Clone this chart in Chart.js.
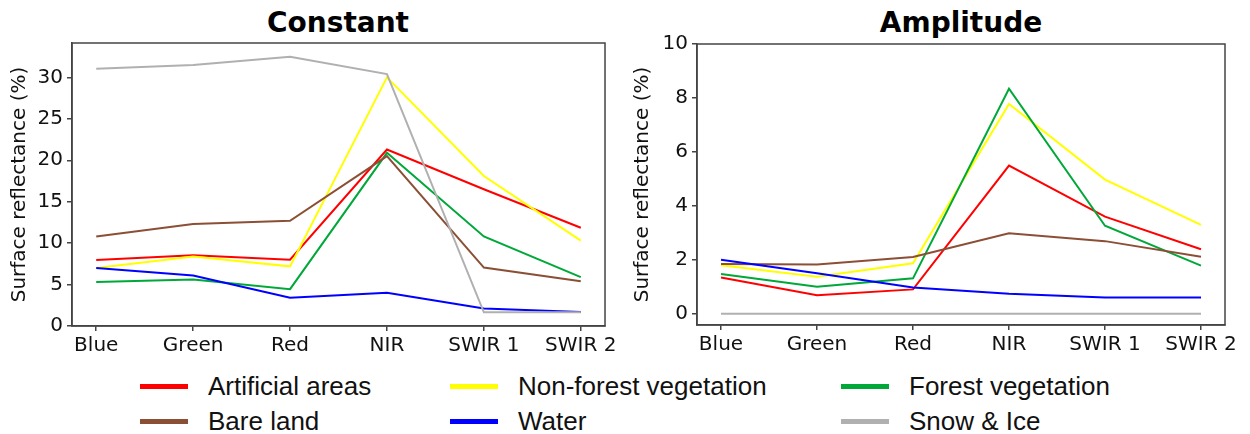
<!DOCTYPE html>
<html>
<head>
<meta charset="utf-8">
<script src="https://cdn.jsdelivr.net/npm/chart.js@4"></script>
<style>
  body { margin: 0; background: #fff; width: 1250px; height: 434px; position: relative; overflow: hidden; }
  .panel { position: absolute; top: 0; height: 365px; }
  .title { position: absolute; top: 6px; font: bold 28px "DejaVu Sans", sans-serif; color: #000; transform: translateX(-50%); white-space: nowrap; }
  #legend { position: absolute; left: 0; top: 0; font: 26px "Liberation Sans", Arial, sans-serif; color: #111; }
  .item { position: absolute; height: 30px; display: flex; align-items: center; white-space: nowrap; }
  .swatch { width: 48px; height: 5px; margin-right: 20px; }
</style>
</head>
<body>
<div class="title" style="left:338px">Constant</div>
<div class="title" style="left:961px">Amplitude</div>
<div class="panel" style="left:0;width:620px"><canvas id="constant-chart"></canvas></div>
<div class="panel" style="left:620px;width:630px"><canvas id="amplitude-chart"></canvas></div>
<div id="legend"></div>
<script>
const bands = ['Blue', 'Green', 'Red', 'NIR', 'SWIR 1', 'SWIR 2'];
const classes = ['Artificial areas', 'Non-forest vegetation', 'Forest vegetation', 'Bare land', 'Water', 'Snow & Ice'];
const colors = ['#ff0000', '#ffff00', '#00a83a', '#8b4f35', '#0000ff', '#b0b0b0'];

// Constant term (%)
const constArtificial = [7.95, 8.55, 8.0, 21.3, 16.5, 11.85];
const constNonForest = [7.0, 8.4, 7.2, 30.0, 18.1, 10.3];
const constForest = [5.3, 5.6, 4.45, 20.9, 10.8, 5.9];
const constBare = [10.8, 12.3, 12.7, 20.5, 7.05, 5.4];
const constWater = [7.0, 6.1, 3.4, 4.0, 2.1, 1.7];
const constSnow = [31.05, 31.5, 32.5, 30.4, 1.65, 1.65];

// Amplitude term (%)
const ampArtificial = [1.34, 0.68, 0.9, 5.49, 3.6, 2.39];
const ampNonForest = [1.8, 1.37, 1.87, 7.78, 4.97, 3.29];
const ampForest = [1.47, 1.0, 1.31, 8.34, 3.26, 1.78];
const ampBare = [1.84, 1.82, 2.1, 2.98, 2.69, 2.11];
const ampWater = [2.0, 1.5, 0.97, 0.74, 0.6, 0.6];
const ampSnow = [0, 0, 0, 0, 0, 0];

const constSeries = [constArtificial, constNonForest, constForest, constBare, constWater, constSnow];
const ampSeries = [ampArtificial, ampNonForest, ampForest, ampBare, ampWater, ampSnow];

const tickFont = { family: 'DejaVu Sans', size: 20 };
const axisColor = '#444';

// draws the full box round the plot like matplotlib spines
const framePlugin = {
    id: 'frame',
    afterDatasetsDraw(chart) {
        const a = chart.chartArea;
        const ctx = chart.ctx;
        ctx.save();
        ctx.strokeStyle = axisColor;
        ctx.lineWidth = 1.5;
        ctx.strokeRect(a.left, a.top, a.right - a.left, a.bottom - a.top);
        ctx.restore();
    }
};

function makeChart(id, series, cfg) {
    const ctx = document.getElementById(id).getContext('2d');
    // snow drawn first so it sits underneath, like the reference
    const order = [5, 4, 3, 2, 1, 0];
    return new Chart(ctx, {
        type: 'line',
        data: {
            datasets: order.map(i => ({
                label: classes[i],
                data: series[i].map((v, j) => ({ x: j, y: v })),
                borderColor: colors[i],
                borderWidth: 2,
                pointRadius: 0,
                tension: 0,
                fill: false
            }))
        },
        options: {
            responsive: true,
            maintainAspectRatio: false,
            animation: false,
            layout: { padding: { top: cfg.top, right: cfg.right, left: 0, bottom: 0 } },
            plugins: { legend: { display: false }, tooltip: { enabled: false } },
            scales: {
                x: {
                    type: 'linear',
                    min: -0.25,
                    max: 5.25,
                    afterBuildTicks: s => { s.ticks = bands.map((b, i) => ({ value: i })); },
                    afterFit: s => { s.height = cfg.xHeight; },
                    ticks: { callback: v => bands[v], font: tickFont, color: '#111', padding: 3, maxRotation: 0, autoSkip: false },
                    grid: { drawOnChartArea: false, drawTicks: true, tickLength: 5, color: axisColor, lineWidth: 1.5 },
                    border: { display: true, color: axisColor, width: 1.5 }
                },
                y: {
                    min: cfg.yMin,
                    max: cfg.yMax,
                    afterBuildTicks: s => { s.ticks = cfg.yTicks.map(v => ({ value: v })); },
                    afterFit: s => { s.width = cfg.yWidth; },
                    ticks: { font: tickFont, color: '#111', padding: 4 },
                    grid: { drawOnChartArea: false, drawTicks: true, tickLength: 5, color: axisColor, lineWidth: 1.5 },
                    border: { display: true, color: axisColor, width: 1.5 },
                    title: { display: true, text: 'Surface reflectance (%)', font: tickFont, color: '#111', padding: { top: cfg.titlePad, bottom: 0 } }
                }
            }
        },
        plugins: [framePlugin]
    });
}

makeChart('constant-chart', constSeries, {
    top: 43, right: 12, xHeight: 39, yWidth: 72, titlePad: 8,
    yMin: 0, yMax: 34.15, yTicks: [0, 5, 10, 15, 20, 25, 30]
});
makeChart('amplitude-chart', ampSeries, {
    top: 44, right: 25, xHeight: 40, yWidth: 77, titlePad: 11,
    yMin: -0.42, yMax: 10, yTicks: [0, 2, 4, 6, 8, 10]
});

// legend, three columns by two rows
const legendPos = [
    { x: 140, y: 371 }, { x: 450, y: 371 }, { x: 841, y: 371 },
    { x: 140, y: 406 }, { x: 450, y: 406 }, { x: 841, y: 406 }
];
const legend = document.getElementById('legend');
classes.forEach((name, k) => {
    const el = document.createElement('div');
    el.className = 'item';
    el.style.left = legendPos[k].x + 'px';
    el.style.top = legendPos[k].y + 'px';
    el.innerHTML = `<span class="swatch" style="background:${colors[k]}"></span><span>${name.replace('&', '&amp;')}</span>`;
    legend.appendChild(el);
});
</script>
</body>
</html>
